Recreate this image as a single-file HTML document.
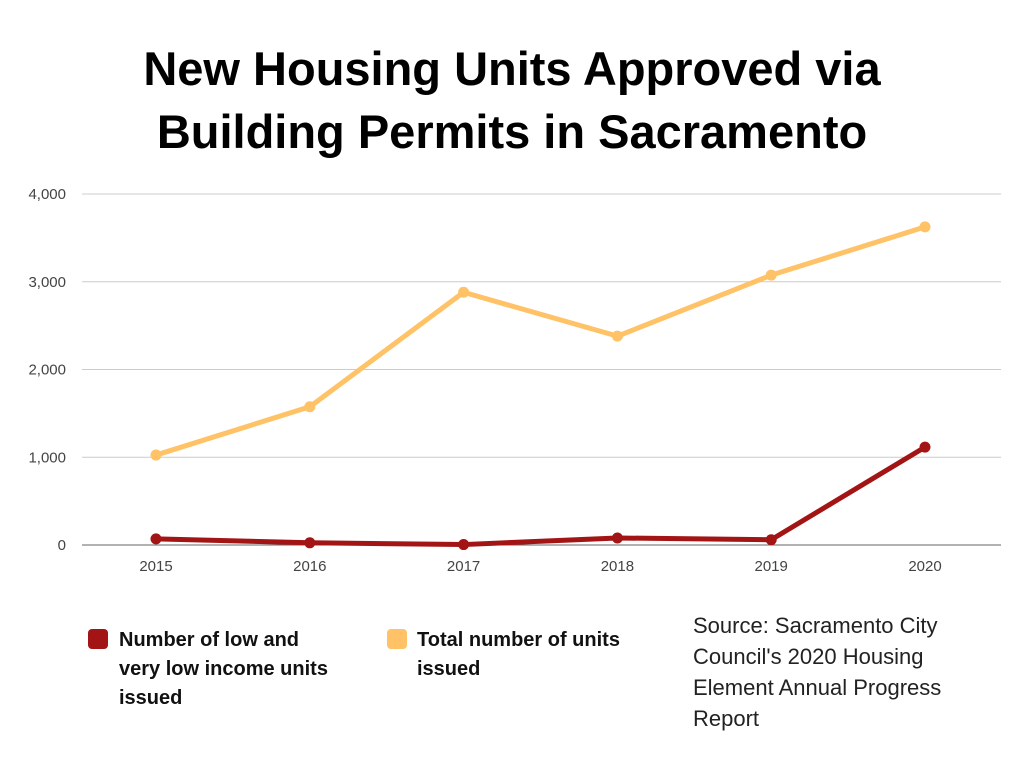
<!DOCTYPE html>
<html><head><meta charset="utf-8"><style>
body{margin:0;width:1024px;height:768px;background:#fff;overflow:hidden;font-family:"Liberation Sans",sans-serif;}
#title{position:absolute;left:0;top:37px;width:1024px;text-align:center;font-size:47px;font-weight:bold;line-height:63px;color:#000;}
.leg{position:absolute;font-size:20px;font-weight:bold;line-height:29px;color:#111;}
.sw{position:absolute;width:20px;height:20px;border-radius:4px;}
#source{position:absolute;left:693px;top:610px;font-size:22px;line-height:31px;color:#222;}
</style></head><body>
<div id="title">New Housing Units Approved via<br>Building Permits in Sacramento</div>
<svg id="chart" width="1024" height="600" style="position:absolute;left:0;top:0"></svg>
<div class="sw" style="left:88px;top:629px;background:#a31515"></div>
<div class="leg" style="left:119px;top:626px;width:235px">Number of low and<br>very low income units<br>issued</div>
<div class="sw" style="left:387px;top:629px;background:#ffc266"></div>
<div class="leg" style="left:417px;top:626px;width:240px">Total number of units<br>issued</div>
<div id="source">Source: Sacramento City<br>Council's 2020 Housing<br>Element Annual Progress<br>Report</div>
<script>
const categories=["2015","2016","2017","2018","2019","2020"];
const totalUnits=[1025,1575,2880,2380,3075,3625];
const lowIncomeUnits=[70,25,5,80,60,1115];
const yTicks=[0,1000,2000,3000,4000];
const yTickLabels=["0","1,000","2,000","3,000","4,000"];
const NS="http://www.w3.org/2000/svg";
const svg=document.getElementById('chart');
const x=i=>156+i*153.8;
const y=v=>545-v*0.08775;
function mk(t,a){const e=document.createElementNS(NS,t);for(const k in a)e.setAttribute(k,a[k]);svg.appendChild(e);return e;}
yTicks.forEach((v,i)=>{
 const l=mk('line',{x1:82,x2:1001,y1:y(v),y2:y(v),stroke:v===0?'#666':'#ccc','stroke-width':1});
 
 
 const t=mk('text',{x:66,y:y(v)+5,'text-anchor':'end','font-size':15,fill:'#444','font-family':'Liberation Sans, sans-serif'});
 t.textContent=yTickLabels[i];
 
 
});
categories.forEach((c,i)=>{
 const t=mk('text',{x:x(i),y:571,'text-anchor':'middle','font-size':15,fill:'#444','font-family':'Liberation Sans, sans-serif'});
 t.textContent=c;
 
 
});
function series(vals,color,name){
 const p=mk('polyline',{points:vals.map((v,i)=>x(i)+','+y(v)).join(' '),fill:'none',stroke:color,'stroke-width':5,'stroke-linejoin':'round'});
 
 
 vals.forEach((v,i)=>{
  const c=mk('circle',{cx:x(i),cy:y(v),r:5.5,fill:color});
  
  
 });
}
series(totalUnits,'#ffc266','total-units');
series(lowIncomeUnits,'#a31515','low-income-units');
</script>
</body></html>
